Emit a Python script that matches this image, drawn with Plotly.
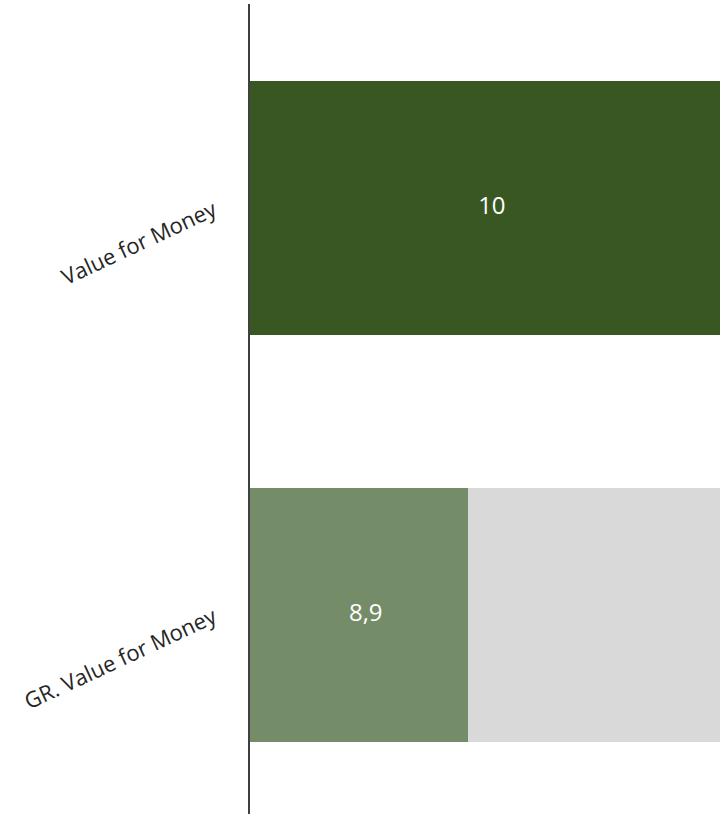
import plotly.graph_objects as go

# ── Data ─────────────────────────────────────────────────
categories = ["GR. Value for Money", "Value for Money"]
scores     = [8.9, 10]
score_text = ["8,9", "10"]
remainder  = [1.1, 0]          # up to max score of 10

# ── Colours / layout constants ───────────────────────────
SCORE_CLR = ["#748C68", "#385723"]
REST_CLR  = "#D9D9D9"
FONT      = "Open Sans, sans-serif"
X_RANGE   = [7.95, 10]

fig = go.Figure()
fig.add_trace(go.Bar(
    y=categories,
    x=scores,
    orientation="h",
    marker=dict(color=SCORE_CLR, line=dict(width=0)),
    hoverinfo="skip",
))
fig.add_trace(go.Bar(
    y=categories,
    x=remainder,
    orientation="h",
    marker=dict(color=REST_CLR, line=dict(width=0)),
    hoverinfo="skip",
))
# labels centred on the visible part of each score bar
fig.add_trace(go.Scatter(
    y=categories,
    x=[(X_RANGE[0] + min(s, X_RANGE[1])) / 2 + 0.03 for s in scores],
    mode="text",
    text=score_text,
    textposition="middle center",
    textfont=dict(color="white", size=24, family=FONT),
    hoverinfo="skip",
))

fig.update_layout(
    width=720,
    height=814,
    barmode="stack",
    bargap=0.376,
    showlegend=False,
    paper_bgcolor="white",
    plot_bgcolor="white",
    margin=dict(l=250, r=0, t=4, b=0),
    font=dict(family=FONT, color="#262626"),
    xaxis=dict(
        range=X_RANGE,
        visible=False,
        showgrid=False,
        zeroline=False,
    ),
    yaxis=dict(
        range=[-0.489, 1.501],
        showline=True,
        linecolor="#404040",
        linewidth=2,
        showgrid=False,
        ticks="",
        tickangle=-25,
        ticklabelstandoff=30,
        tickfont=dict(size=22, family=FONT, color="#262626"),
    ),
)

fig.write_html(
    "out.html",
    config={"displayModeBar": False},
    post_script="document.body.style.margin='0';",
)
